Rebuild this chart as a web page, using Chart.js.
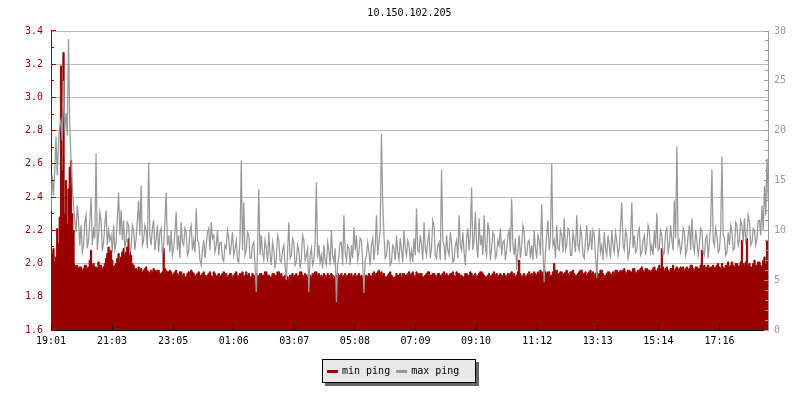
<!DOCTYPE html>
<html><head><meta charset="utf-8">
<script src="https://cdn.jsdelivr.net/npm/chart.js@4/dist/chart.umd.min.js"></script>
<style>html,body{margin:0;padding:0;background:#fff}canvas{display:block}</style>
</head><body>
<canvas id="c" width="800" height="400"></canvas>
<script>
const TITLE = '10.150.102.205';
const SERIES_LABELS = ['min ping', 'max ping'];
const SAMPLE_STEP_MIN = 2.5;
const X_RANGE_MIN = 1432;
const X_TICK_MINUTES = [0, 122, 244, 365, 486, 607, 728, 849, 971, 1092, 1213, 1335];
const X_TICK_LABELS = ['19:01','21:03','23:05','01:06','03:07','05:08','07:09','09:10','11:12','13:13','15:14','17:16'];
const LEFT_RANGE = [1.6, 3.4];
const RIGHT_RANGE = [0, 30];

// min ping (left axis), one row per hour, 2.5-minute samples
const MIN_PING = [
  2.02,2.06,2.09,2.01,2.04,2.21,2.12,2.28,3.19,2.56,3.27,2.30,2.50,2.24,2.45,2.58,2.62,2.30,2.20,1.99,1.98,1.99,1.97,1.98,
  1.98,1.96,1.97,1.99,1.99,1.97,1.98,2.02,2.08,1.99,2.00,1.98,1.98,1.97,2.01,1.99,1.99,1.97,1.98,2.00,2.03,2.06,2.10,2.07,
  2.08,2.02,1.98,1.99,2.00,2.03,2.06,2.01,2.04,2.07,2.09,2.05,2.07,2.10,2.15,2.08,2.05,2.00,1.99,1.97,1.97,1.96,1.98,1.96,
  1.97,1.95,1.96,1.97,1.98,1.96,1.95,1.94,1.96,1.95,1.97,1.96,1.95,1.96,1.96,1.94,1.94,1.95,2.09,1.97,1.96,1.95,1.95,1.96,
  1.95,1.93,1.94,1.95,1.96,1.94,1.93,1.95,1.95,1.93,1.94,1.92,1.92,1.94,1.95,1.93,1.96,1.95,1.94,1.92,1.93,1.94,1.95,1.93,
  1.93,1.94,1.95,1.93,1.92,1.93,1.94,1.95,1.93,1.92,1.95,1.94,1.92,1.93,1.94,1.92,1.93,1.94,1.95,1.93,1.94,1.92,1.93,1.94,
  1.94,1.92,1.93,1.94,1.95,1.93,1.92,1.94,1.94,1.95,1.93,1.92,1.95,1.93,1.94,1.92,1.92,1.94,1.93,1.92,1.94,1.93,1.92,1.94,
  1.94,1.93,1.93,1.95,1.95,1.93,1.93,1.92,1.92,1.94,1.94,1.93,1.93,1.95,1.95,1.93,1.94,1.92,1.92,1.93,1.93,1.92,1.90,1.93,
  1.93,1.94,1.92,1.93,1.94,1.92,1.93,1.95,1.95,1.93,1.92,1.94,1.93,1.92,1.94,1.93,1.92,1.94,1.93,1.95,1.95,1.93,1.94,1.92,
  1.93,1.92,1.94,1.93,1.92,1.94,1.93,1.91,1.94,1.93,1.91,1.92,1.93,1.94,1.92,1.93,1.94,1.92,1.93,1.94,1.92,1.93,1.94,1.93,
  1.94,1.92,1.93,1.94,1.92,1.93,1.94,1.92,1.93,1.92,1.91,1.93,1.93,1.92,1.94,1.93,1.92,1.94,1.95,1.93,1.94,1.95,1.96,1.94,
  1.95,1.93,1.94,1.92,1.92,1.93,1.94,1.95,1.93,1.92,1.90,1.92,1.94,1.93,1.93,1.94,1.92,1.94,1.94,1.93,1.93,1.94,1.95,1.93,
  1.94,1.95,1.93,1.92,1.95,1.94,1.93,1.94,1.94,1.92,1.92,1.93,1.94,1.95,1.95,1.93,1.93,1.94,1.94,1.93,1.92,1.94,1.94,1.93,
  1.93,1.94,1.95,1.93,1.94,1.93,1.92,1.94,1.94,1.95,1.93,1.92,1.95,1.94,1.94,1.93,1.93,1.92,1.92,1.94,1.94,1.93,1.93,1.95,
  1.94,1.92,1.93,1.94,1.92,1.93,1.94,1.95,1.95,1.94,1.93,1.92,1.92,1.93,1.94,1.92,1.93,1.94,1.95,1.93,1.94,1.92,1.93,1.94,
  1.93,1.92,1.94,1.93,1.92,1.94,1.93,1.94,1.95,1.93,1.94,1.92,1.93,1.95,2.02,1.94,1.92,1.93,1.94,1.92,1.93,1.94,1.95,1.93,
  1.94,1.93,1.95,1.94,1.93,1.95,1.94,1.96,1.95,1.94,1.96,1.95,1.94,1.95,1.95,1.93,1.93,1.95,2.00,1.96,1.96,1.94,1.94,1.95,
  1.95,1.93,1.94,1.95,1.96,1.94,1.93,1.95,1.95,1.96,1.94,1.93,1.93,1.94,1.95,1.96,1.96,1.94,1.94,1.95,1.93,1.94,1.95,1.96,
  1.94,1.95,1.93,1.94,1.95,1.93,1.94,1.96,1.96,1.94,1.92,1.93,1.94,1.95,1.95,1.94,1.93,1.95,1.94,1.96,1.96,1.94,1.95,1.96,
  1.95,1.96,1.97,1.95,1.94,1.96,1.96,1.95,1.95,1.97,1.97,1.95,1.94,1.96,1.96,1.97,1.98,1.96,1.95,1.97,1.97,1.96,1.96,1.95,
  1.96,1.97,1.98,1.96,1.95,1.97,1.99,1.97,2.09,1.98,1.96,1.97,1.98,1.96,1.95,1.97,1.97,1.99,1.96,1.97,1.98,1.96,1.97,1.98,
  1.97,1.98,1.96,1.97,1.98,1.96,1.97,1.99,1.99,1.97,1.96,1.98,1.98,1.97,1.97,1.99,2.08,1.98,1.99,1.97,1.98,1.99,1.97,1.98,
  1.98,1.99,1.97,1.98,1.99,2.00,1.98,1.97,2.00,1.98,1.97,1.99,1.99,2.01,1.98,1.99,2.01,1.99,1.98,2.00,2.00,1.98,1.99,2.01,
  2.14,2.00,1.99,2.01,2.15,1.99,2.00,1.98,1.98,2.00,2.02,1.99,1.99,2.01,2.01,1.99,1.98,2.02,2.04,2.00,2.14,2.03,2.02,2.05
];

// max ping (right axis)
const MAX_PING = [
  12.0,15.5,13.5,16.0,19.4,15.5,18.8,20.5,21.0,19.0,25.0,20.0,21.8,19.5,29.2,20.5,17.0,14.5,12.5,11.0,9.8,12.5,11.0,8.5,
  10.5,7.8,8.5,10.8,11.5,8.2,9.0,11.0,13.3,8.5,10.0,9.2,17.7,8.0,9.5,11.8,11.0,7.9,8.8,10.5,12.0,8.5,10.0,9.0,
  9.5,7.8,10.5,8.0,8.7,11.2,13.8,9.5,12.0,9.0,11.0,8.2,9.0,10.8,10.5,7.8,8.2,10.5,10.0,8.0,9.2,11.0,13.0,9.5,
  14.5,8.5,9.0,10.5,10.0,8.2,16.8,9.5,8.5,10.2,11.0,8.0,9.2,10.5,7.8,9.8,10.2,7.5,8.5,10.8,13.8,8.5,9.5,7.8,
  10.0,7.5,8.2,9.8,11.8,8.0,9.5,7.2,10.8,8.8,8.5,10.2,9.8,7.5,7.9,10.0,10.5,8.0,9.0,7.8,12.2,9.0,8.8,7.0,
  6.5,8.0,9.0,7.2,8.5,9.8,10.2,8.0,10.8,9.2,9.5,7.8,8.5,10.0,7.5,8.8,8.8,7.2,6.9,8.5,8.2,10.0,9.2,7.5,
  8.5,9.8,7.5,8.2,9.0,7.0,6.8,9.2,17.0,8.0,12.8,7.5,8.0,9.8,9.5,7.2,7.2,8.5,8.8,6.5,3.8,8.0,14.1,7.5,
  9.5,7.8,7.0,9.0,8.2,6.8,9.8,7.5,6.5,8.8,8.0,6.2,7.2,9.5,9.0,7.0,6.8,8.0,8.5,6.5,5.0,7.8,10.8,7.2,
  7.5,9.2,8.8,6.5,6.8,8.5,8.0,6.2,7.2,9.5,9.0,7.0,7.5,8.2,3.8,7.5,8.2,6.5,7.0,8.8,14.8,7.2,8.5,6.8,
  7.5,6.2,8.5,7.0,6.5,8.8,8.0,6.5,10.0,7.5,6.8,8.2,2.8,6.5,7.5,8.8,8.8,6.5,11.5,7.8,7.0,8.5,8.2,6.5,
  8.5,7.2,10.3,8.0,9.5,7.0,7.8,9.2,9.0,6.8,3.7,7.0,7.5,8.8,7.8,6.5,8.5,9.2,7.0,8.5,11.5,7.5,8.8,10.0,
  19.7,12.8,9.5,7.2,7.5,9.0,8.8,6.5,6.8,8.5,8.2,7.0,9.5,7.8,7.0,9.2,8.0,6.8,10.0,8.2,7.5,9.0,8.5,7.0,
  8.0,6.8,9.2,7.5,12.2,8.0,7.8,9.5,8.5,7.0,10.8,8.2,7.5,9.0,9.8,7.2,8.2,11.0,10.5,7.5,7.2,8.5,8.8,7.0,
  16.1,9.0,8.5,7.0,9.5,8.0,7.5,9.8,8.8,6.8,7.0,8.5,9.0,7.2,11.5,8.5,8.0,9.8,7.8,6.5,9.2,10.2,8.0,9.5,
  14.3,8.0,9.0,11.8,8.5,7.2,11.2,8.5,9.5,7.5,11.5,8.2,7.5,10.8,10.0,7.0,8.2,9.8,9.5,7.2,7.5,9.0,8.5,10.2,
  7.5,8.8,9.0,7.0,8.0,9.5,10.0,7.8,13.2,8.5,7.5,9.2,6.0,8.0,9.5,7.2,8.5,10.5,9.8,7.5,7.5,8.8,9.0,7.2,
  8.5,7.0,10.0,8.2,7.2,9.5,9.0,7.5,12.6,8.0,4.8,7.8,9.5,11.0,8.0,9.2,16.7,8.5,9.0,7.2,10.5,8.2,8.0,10.0,
  9.5,7.8,11.2,8.0,8.5,10.2,10.0,7.5,7.5,9.8,9.0,7.8,11.5,8.5,8.0,10.2,9.5,7.5,7.2,9.0,10.5,8.0,8.5,10.0,
  8.0,10.0,9.5,7.5,5.2,8.0,10.2,7.8,8.5,7.0,9.8,8.2,7.5,9.5,8.5,7.2,10.0,8.5,7.8,9.8,9.0,7.5,8.2,10.5,
  12.8,8.5,8.0,10.0,9.5,7.2,7.8,9.5,12.8,8.2,9.5,7.8,8.0,9.8,10.2,7.5,7.8,9.0,9.5,7.5,8.5,10.5,10.0,7.8,
  8.5,7.5,10.0,8.2,11.7,8.0,8.2,10.0,9.5,7.5,7.8,9.8,10.2,7.8,8.5,10.5,9.0,8.0,13.0,9.2,18.4,8.5,9.0,7.8,
  8.5,10.2,9.8,7.5,8.0,9.5,10.5,8.0,11.2,8.5,7.8,10.0,9.0,7.5,8.5,10.2,10.0,7.8,7.5,9.2,9.5,7.2,8.8,10.5,
  16.1,9.0,8.5,10.2,9.5,7.8,8.0,10.0,17.4,9.5,9.2,7.5,7.8,9.8,8.5,10.5,9.8,8.0,8.2,10.8,10.5,8.5,9.0,11.0,
  10.5,8.8,11.2,9.0,9.5,11.5,10.8,8.5,8.8,10.2,10.0,8.5,9.2,11.0,11.0,9.5,12.5,10.0,14.5,11.5,17.2,13.0,15.0,12.0
];

const MIN_COLOR = '#990000';
const MAX_COLOR = '#999999';
const FONT = { family: "'DejaVu Sans Mono', monospace", size: 10 };

const toPoints = arr => arr.map((v, i) => ({ x: i * SAMPLE_STEP_MIN, y: v }));

const decorPlugin = {
  id: 'decor',
  afterDraw(chart) {
    const { ctx, chartArea: ca, scales } = chart;
    const sx = scales.x, sy = scales.y, sy2 = scales.y2;
    ctx.save();
    ctx.lineWidth = 1;
    // left axis tick marks (inside)
    ctx.strokeStyle = MIN_COLOR;
    ctx.beginPath();
    for (let k = 0; k <= 18; k++) {
      const py = Math.round(sy.getPixelForValue(LEFT_RANGE[0] + k * 0.1) - 0.5) + 0.5;
      const len = k % 2 === 0 ? 5 : 3;
      ctx.moveTo(ca.left, py); ctx.lineTo(ca.left + len, py);
    }
    ctx.stroke();
    // right axis tick marks (inside)
    ctx.strokeStyle = MAX_COLOR;
    ctx.beginPath();
    for (let k = RIGHT_RANGE[0]; k <= RIGHT_RANGE[1]; k++) {
      const py = Math.round(sy2.getPixelForValue(k) - 0.5) + 0.5;
      const len = k % 5 === 0 ? 4 : 3;
      ctx.moveTo(ca.right, py); ctx.lineTo(ca.right - len, py);
    }
    ctx.stroke();
    // bottom axis tick marks
    ctx.strokeStyle = '#000';
    ctx.beginPath();
    X_TICK_MINUTES.forEach(m => {
      const px = Math.round(sx.getPixelForValue(m) - 0.5) + 0.5;
      ctx.moveTo(px, ca.bottom); ctx.lineTo(px, ca.bottom - 5);
    });
    ctx.stroke();

    // legend box with shadow
    const bx = Math.round(chart.width / 2) - 78, by = 359, bw = 154, bh = 24;
    ctx.fillStyle = '#666666';
    ctx.fillRect(bx + 3, by + 3, bw, bh);
    ctx.fillStyle = '#e8e8e8';
    ctx.fillRect(bx, by, bw, bh);
    ctx.strokeStyle = '#000';
    ctx.strokeRect(bx + 0.5, by + 0.5, bw - 1, bh - 1);
    ctx.font = `${FONT.size}px ${FONT.family}`;
    ctx.textBaseline = 'alphabetic';
    ctx.textAlign = 'left';
    let cx = bx + 5;
    chart.data.datasets.forEach(ds => {
      ctx.fillStyle = ds.borderColor;
      ctx.fillRect(cx, by + 11, 11, 3);
      cx += 15;
      ctx.fillStyle = '#000';
      ctx.fillText(ds.label, cx, by + 15);
      cx += ctx.measureText(ds.label).width + 6;
    });
    ctx.restore();
  }
};

new Chart(document.getElementById('c'), {
  type: 'line',
  data: {
    datasets: [
      {
        label: SERIES_LABELS[0],
        data: toPoints(MIN_PING),
        yAxisID: 'y',
        borderColor: MIN_COLOR,
        backgroundColor: MIN_COLOR,
        borderWidth: 1,
        fill: 'start',
        stepped: 'middle',
        pointRadius: 0,
        order: 1
      },
      {
        label: SERIES_LABELS[1],
        data: toPoints(MAX_PING),
        yAxisID: 'y2',
        borderColor: MAX_COLOR,
        backgroundColor: MAX_COLOR,
        borderWidth: 1.25,
        fill: false,
        pointRadius: 0,
        tension: 0,
        order: 0
      }
    ]
  },
  options: {
    responsive: false,
    animation: false,
    devicePixelRatio: 1,
    layout: { padding: 0 },
    plugins: {
      legend: { display: false },
      tooltip: { enabled: false },
      title: {
        display: true,
        text: TITLE,
        fullSize: false,
        color: '#000',
        font: { family: FONT.family, size: 10, weight: 'normal' },
        padding: { top: 7, bottom: 12 }
      }
    },
    scales: {
      x: {
        type: 'linear',
        min: 0,
        max: X_RANGE_MIN,
        afterBuildTicks: s => { s.ticks = X_TICK_MINUTES.map(v => ({ value: v })); },
        afterFit: s => { s.height = 70; },
        ticks: {
          autoSkip: false, maxRotation: 0, color: '#000', font: FONT, padding: 5,
          callback: v => X_TICK_LABELS[X_TICK_MINUTES.indexOf(v)]
        },
        grid: { display: false, drawTicks: false },
        border: { color: '#000', width: 1 }
      },
      y: {
        position: 'left',
        min: LEFT_RANGE[0],
        max: LEFT_RANGE[1],
        afterFit: s => { s.width = 51; },
        ticks: { stepSize: 0.2, color: MIN_COLOR, font: FONT, padding: 8, callback: v => Number(v).toFixed(1) },
        grid: { color: '#bbbbbb', drawTicks: false },
        border: { color: MIN_COLOR, width: 1 }
      },
      y2: {
        position: 'right',
        min: RIGHT_RANGE[0],
        max: RIGHT_RANGE[1],
        afterFit: s => { s.width = 32; },
        ticks: { stepSize: 5, color: MAX_COLOR, font: FONT, padding: 6 },
        grid: { drawOnChartArea: false, drawTicks: false },
        border: { color: MAX_COLOR, width: 1 }
      }
    }
  },
  plugins: [decorPlugin]
});
</script>
</body></html>
